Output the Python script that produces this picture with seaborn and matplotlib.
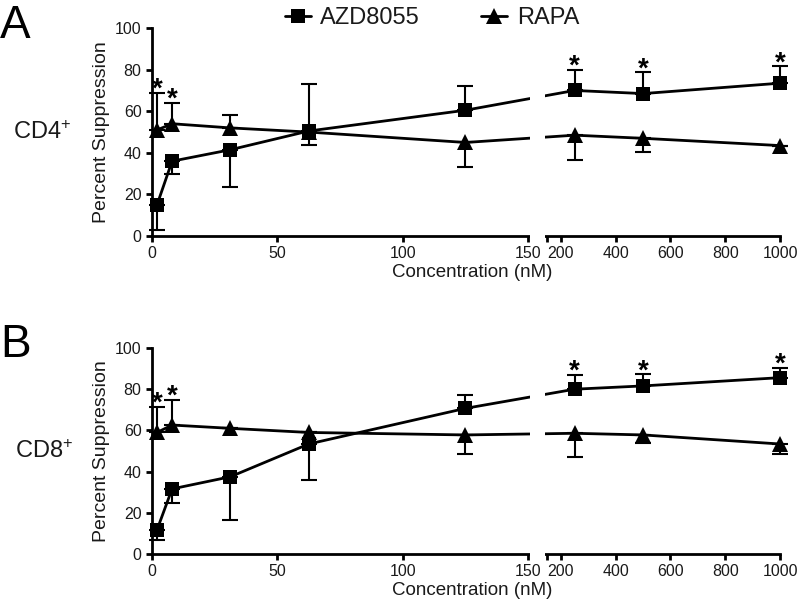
"""Percent suppression vs. concentration for AZD8055 and RAPA (CD4+ / CD8+), broken x-axis."""

import numpy as np
import pandas as pd
import matplotlib
matplotlib.use("Agg")
import matplotlib.pyplot as plt
from matplotlib.lines import Line2D
from matplotlib.patches import Rectangle
import seaborn as sns

# --- data ---
conc = [2, 8, 31.25, 62.5, 125, 250, 500, 1000]
drugs = ["AZD8055", "RAPA"]

cd4_azd = [15, 36, 41.5, 50.5, 60.5, 70, 68.5, 73.5]
cd4_azd_lo = [12, 6, 18, 0, 0, 0, 0, 0]
cd4_azd_hi = [0, 0, 0, 22.5, 11.5, 10, 10.3, 8.2]
cd4_rapa = [51, 54, 52, 50, 45, 48.5, 47, 43.5]
cd4_rapa_lo = [0, 0, 0, 6, 12, 12, 6.5, 0]
cd4_rapa_hi = [18, 10, 6, 0, 0, 0, 0, 0]
cd4_star_x = [2, 8, 250, 500, 1000]
cd4_star_on = ["RAPA", "RAPA", "AZD8055", "AZD8055", "AZD8055"]

cd8_azd = [11.7, 31.6, 37.5, 53.4, 70.7, 80, 81.6, 85.6]
cd8_azd_lo = [4.7, 6.6, 21, 17.5, 0, 0, 0, 0]
cd8_azd_hi = [0, 0, 0, 0, 6.3, 7, 5.8, 4.8]
cd8_rapa = [59, 62.6, 61, 59, 57.8, 58.6, 57.8, 53.4]
cd8_rapa_lo = [0, 0, 0, 0, 9.3, 11.6, 4.1, 4.9]
cd8_rapa_hi = [12.5, 12.4, 0, 0, 0, 0, 0, 0]
cd8_star_x = [2, 8, 250, 500, 1000]
cd8_star_on = ["RAPA", "RAPA", "AZD8055", "AZD8055", "AZD8055"]

left_ticks = [0, 50, 100, 150]
right_ticks = [200, 400, 600, 800, 1000]

# --- broken x scale: 0-150 linear, small gap, then 150-1000 compressed ---
BREAK = 150.0
GAP = 7.6
SLOPE = 0.1092


def fwd(x):
    x = np.asarray(x, dtype=float)
    return np.where(x <= BREAK, x, BREAK + GAP + (x - BREAK) * SLOPE)


def inv(u):
    u = np.asarray(u, dtype=float)
    return np.where(u <= BREAK, u,
                    np.where(u < BREAK + GAP, BREAK, BREAK + (u - BREAK - GAP) / SLOPE))


sns.set_style("ticks")
plt.rcParams["font.family"] = ["Liberation Sans", "DejaVu Sans"]
plt.rcParams["mathtext.default"] = "regular"
INK = "#1a1a1a"

fig = plt.figure(figsize=(8, 6.1), dpi=100)
axA = fig.add_axes([0.19, 0.613, 0.785, 0.341])
axB = fig.add_axes([0.19, 0.0918, 0.785, 0.3377])

styles = {"AZD8055": dict(marker="s", markersize=9.5), "RAPA": dict(marker="^", markersize=12)}


def draw_panel(ax, series, stars):
    df = pd.DataFrame({
        "conc": conc * 2,
        "value": series["AZD8055"][0] + series["RAPA"][0],
        "drug": ["AZD8055"] * len(conc) + ["RAPA"] * len(conc),
    })
    for drug in drugs:
        sub = df[df["drug"] == drug]
        sns.lineplot(data=sub, x="conc", y="value", color="black", lw=2,
                     errorbar=None, markeredgewidth=0, clip_on=False,
                     legend=False, ax=ax, zorder=3, **styles[drug])
        vals, lo, hi = series[drug]
        ax.errorbar(conc, vals, yerr=[lo, hi], fmt="none", ecolor="black",
                    elinewidth=1.5, capsize=6, capthick=1.5, clip_on=False, zorder=2)

    ax.set_xscale("function", functions=(fwd, inv))
    ax.set_xlim(0, 1000)
    ax.set_ylim(0, 100)
    ax.set_yticks([0, 20, 40, 60, 80, 100])
    ticks = left_ticks + [BREAK + 1e-4] + right_ticks
    labels = [str(t) for t in left_ticks] + [""] + [str(t) for t in right_ticks]
    ax.set_xticks(ticks, labels)

    # stars above the top of the flagged error bar
    for x, drug in zip(*stars):
        i = conc.index(x)
        vals, lo, hi = series[drug]
        ax.annotate("*", xy=(x, vals[i] + hi[i]), xytext=(0, -3),
                    textcoords="offset points", ha="center", va="baseline",
                    fontsize=20, fontweight="bold", color="black",
                    annotation_clip=False)

    for side in ["top", "right"]:
        ax.spines[side].set_visible(False)
    for side in ["left", "bottom"]:
        ax.spines[side].set_linewidth(2)
        ax.spines[side].set_color("black")
    ax.tick_params(width=2, length=4.5, labelsize=11.5, colors="black",
                   labelcolor=INK, pad=3)

    # white gap in the axis and the lines at the break
    u_end = float(fwd(1000))
    ax.add_patch(Rectangle(((BREAK + 0.7) / u_end, -0.04), (GAP - 1.4) / u_end, 1.1,
                           transform=ax.transAxes, facecolor="white",
                           edgecolor="none", clip_on=False, zorder=5))

    ax.set_xlabel("Concentration (nM)", fontsize=13.5, color=INK)
    ax.xaxis.set_label_coords(0.51, -0.135)
    ax.set_ylabel("Percent Suppression", fontsize=14, color=INK)
    ax.yaxis.set_label_coords(-0.067, 0.5)


draw_panel(axA,
           {"AZD8055": (cd4_azd, cd4_azd_lo, cd4_azd_hi),
            "RAPA": (cd4_rapa, cd4_rapa_lo, cd4_rapa_hi)},
           (cd4_star_x, cd4_star_on))
draw_panel(axB,
           {"AZD8055": (cd8_azd, cd8_azd_lo, cd8_azd_hi),
            "RAPA": (cd8_rapa, cd8_rapa_lo, cd8_rapa_hi)},
           (cd8_star_x, cd8_star_on))

fig.text(0.0, 1 - 38 / 610, "A", fontsize=33, va="baseline", ha="left", color="black")
fig.text(0.0, 1 - 357 / 610, "B", fontsize=33, va="baseline", ha="left", color="black")
fig.text(13 / 800, 1 - 133 / 610, "CD4$^{+}$", fontsize=17, va="center", ha="left", color=INK)
fig.text(15 / 800, 1 - 452 / 610, "CD8$^{+}$", fontsize=17, va="center", ha="left", color=INK)

handles = [Line2D([], [], color="black", lw=2, markeredgewidth=0, **styles[d]) for d in drugs]
fig.legend(handles, drugs, loc="center", bbox_to_anchor=(0.54, 1 - 18 / 610), ncol=2,
           frameon=False, fontsize=17, handlelength=1.1, handletextpad=0.4,
           columnspacing=2.6, borderpad=0, labelcolor=INK)

fig.savefig("out.png", dpi=100)
